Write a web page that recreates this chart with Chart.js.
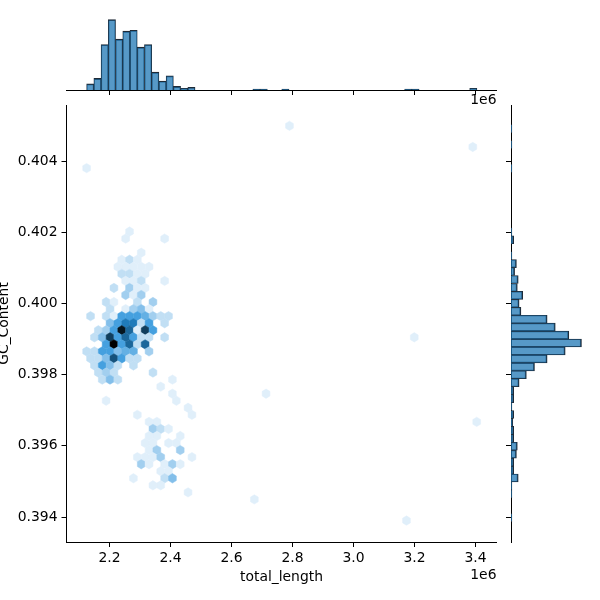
<!DOCTYPE html>
<html><head><meta charset="utf-8">
<script src="https://cdn.jsdelivr.net/npm/chart.js@4"></script>
<style>
html,body{margin:0;padding:0;background:#fff;}
#wrap{position:relative;width:600px;height:600px;background:#fff;}
#wrap canvas{position:absolute;left:0;top:0;}
</style></head><body>
<div id="wrap">
<canvas id="main" width="600" height="600"></canvas>
<canvas id="top" width="600" height="600"></canvas>
<canvas id="right" width="600" height="600"></canvas>
</div>
<script>
// ---- axis definitions ----
const xLabel = 'total_length';
const yLabel = 'GC_Content';
const xOffsetText = '1e6';
const xTicks = [2.2, 2.4, 2.6, 2.8, 3.0, 3.2, 3.4];          // x in units of 1e6
const yTicks = [0.394, 0.396, 0.398, 0.400, 0.402, 0.404];
const xLimits = [2.059, 3.469];
const yLimits = [0.393298, 0.405573];

// ---- hexbin grid (origin + half-steps of the hex lattice) ----
const hexX0 = 2.125, hexXStep = 0.01279;
const hexY0 = 0.3939, hexYStep = 0.000198;
// [row, [[col, count], ...]]
const hexRows = [
  [56, [[52,1]]],
  [53, [[99,1]]],
  [50, [[0,1]]],
  [41, [[11,1]]],
  [40, [[10,1],[20,1]]],
  [38, [[14,1]]],
  [37, [[9,1],[11,2],[13,1]]],
  [36, [[8,1],[10,1],[12,1],[14,1],[16,1]]],
  [35, [[9,2],[11,2],[13,1],[15,1]]],
  [34, [[10,1],[12,1],[14,2],[20,1]]],
  [33, [[7,2],[11,3],[13,1],[15,1]]],
  [32, [[10,3],[12,1],[14,3]]],
  [31, [[5,2],[7,1],[13,2],[17,3]]],
  [30, [[6,2],[10,1],[12,3],[14,4],[16,1]]],
  [29, [[1,2],[5,2],[7,1],[9,6],[11,6],[13,6],[15,5],[17,3],[19,2],[21,2]]],
  [28, [[6,4],[8,6],[10,8],[12,8],[14,2],[16,6],[20,2]]],
  [27, [[3,2],[5,3],[7,6],[9,13],[11,9],[13,1],[15,11],[17,6]]],
  [26, [[2,2],[4,4],[6,11],[8,6],[10,9],[12,6],[14,2],[16,2],[20,2],[84,1]]],
  [25, [[5,6],[7,14],[9,6],[11,9],[13,2],[15,9]]],
  [24, [[0,2],[2,2],[4,6],[6,6],[8,4],[10,5],[12,5],[16,3]]],
  [23, [[1,2],[3,2],[5,4],[7,10],[9,6],[11,2],[13,2]]],
  [22, [[2,2],[4,6],[6,4],[8,2],[12,2]]],
  [21, [[3,2],[5,3],[7,2],[17,2]]],
  [20, [[4,2],[6,4],[8,2],[22,1]]],
  [19, [[19,1]]],
  [18, [[22,1],[46,1]]],
  [17, [[5,1],[23,1]]],
  [16, [[26,1]]],
  [15, [[13,1],[27,1]]],
  [14, [[16,1],[18,1],[100,1]]],
  [13, [[17,3],[19,2],[21,1]]],
  [12, [[16,1],[18,1],[24,1]]],
  [11, [[15,1],[17,1],[21,1],[23,1]]],
  [10, [[16,1],[18,3],[24,3]]],
  [9,  [[13,1],[15,1],[17,1],[19,3],[27,1]]],
  [8,  [[14,3],[16,1],[20,1],[22,3],[24,1]]],
  [7,  [[19,1],[21,1]]],
  [6,  [[12,1],[20,2],[22,4]]],
  [5,  [[17,1],[19,1]]],
  [4,  [[26,1]]],
  [3,  [[43,1]]],
  [0,  [[82,1]]]
];

// ---- marginal histograms ----
const topBinStart = 2.125, topBinWidth = 0.0237;
const topCounts = [7,13,51,79,57,66,67,48,51,20,10,16,4,2,3,
  0,0,0,0,0,0,0,0,1,1,0,0,1,0,0,
  0,0,0,0,0,0,0,0,0,0,0,0,0,0,1,
  1,0,0,0,0,0,0,0,2];
const rightBinStart = 0.39387, rightBinWidth = 0.000223;
// from bottom bin upward
const rightCounts = [1,0,0,1,1,8,3,3,6,7,
  3,3,2,3,1,3,3,9,17,26,
  40,60,78,64,49,40,11,9,13,7,
  8,4,6,1,0,3,1,0,0,0,
  0,0,0,0,1,0,0,1,0,1];

// ---- styling ----
const FONT = {family: 'DejaVu Sans', size: 13.9};
const HIST_FILL = 'rgba(31,119,180,0.75)';
const HIST_EDGE = '#1f2a36';

const hexPoints = [];
hexRows.forEach(([m, cells]) => cells.forEach(([k, c]) => {
  hexPoints.push({x: hexX0 + k * hexXStep, y: hexY0 + m * hexYStep, c: c});
}));
const hexMax = Math.max(...hexPoints.map(p => p.c));

function hls2rgb(h, l, s) {
  function v(m1, m2, hue) {
    hue = ((hue % 1) + 1) % 1;
    if (hue < 1/6) return m1 + (m2 - m1) * hue * 6;
    if (hue < 0.5) return m2;
    if (hue < 2/3) return m1 + (m2 - m1) * (2/3 - hue) * 6;
    return m1;
  }
  const m2 = l <= 0.5 ? l * (1 + s) : l + s - l * s;
  const m1 = 2 * l - m2;
  return [v(m1, m2, h + 1/3), v(m1, m2, h), v(m1, m2, h - 1/3)];
}
function hexColor(c) {
  const t = Math.min(1, c / hexMax);
  const rgb = hls2rgb(0.5682, 1 - t, 0.7053).map(v => Math.round(Math.max(0, Math.min(1, v)) * 255));
  return 'rgb(' + rgb.join(',') + ')';
}

const gridOpts = {drawOnChartArea: false, drawTicks: true, tickLength: 5, tickColor: '#000', tickWidth: 1, color: '#000', offset: false};
const borderOpts = {display: true, color: '#000', width: 1};
const setXTicks = s => { s.ticks = xTicks.map(v => ({value: v})); };
const setYTicks = s => { s.ticks = yTicks.map(v => ({value: v})); };

const hexPlugin = {
  id: 'hexDraw',
  afterDatasetsDraw(chart) {
    const meta = chart.getDatasetMeta(0);
    const xs = chart.scales.x, ys = chart.scales.y;
    const hw = Math.abs(xs.getPixelForValue(hexX0 + hexXStep) - xs.getPixelForValue(hexX0));
    const vy = Math.abs(ys.getPixelForValue(hexY0 + hexYStep) - ys.getPixelForValue(hexY0));
    const ctx = chart.ctx;
    ctx.save();
    meta.data.forEach((el, i) => {
      const col = hexColor(hexPoints[i].c);
      const x = el.x, y = el.y;
      ctx.beginPath();
      ctx.moveTo(x + hw, y + vy / 3);
      ctx.lineTo(x + hw, y - vy / 3);
      ctx.lineTo(x, y - 2 * vy / 3);
      ctx.lineTo(x - hw, y - vy / 3);
      ctx.lineTo(x - hw, y + vy / 3);
      ctx.lineTo(x, y + 2 * vy / 3);
      ctx.closePath();
      ctx.fillStyle = col;
      ctx.fill();
      ctx.strokeStyle = col;
      ctx.lineWidth = 0.5;
      ctx.stroke();
    });
    ctx.restore();
  }
};

const offsetTextPlugin = {
  id: 'offsetText',
  afterDraw(chart) {
    const ctx = chart.ctx;
    ctx.save();
    ctx.font = FONT.size + 'px "' + FONT.family + '"';
    ctx.fillStyle = '#000';
    ctx.textAlign = 'right';
    ctx.textBaseline = 'middle';
    ctx.fillText(xOffsetText, chart.chartArea.right, 575);
    ctx.fillText(xOffsetText, chart.chartArea.right, 100);
    ctx.restore();
  }
};

new Chart(document.getElementById('main'), {
  type: 'scatter',
  data: {datasets: [{data: hexPoints.map(p => ({x: p.x, y: p.y})), pointRadius: 0, pointHoverRadius: 0}]},
  options: {
    responsive: false, animation: false, events: [],
    plugins: {legend: {display: false}, tooltip: {enabled: false}},
    layout: {padding: {left: 0, right: 103.5, top: 105, bottom: 0}},
    scales: {
      x: {type: 'linear', position: 'bottom', min: xLimits[0], max: xLimits[1], offset: false,
        afterBuildTicks: setXTicks, afterFit: s => { s.height = 58; },
        grid: gridOpts, border: borderOpts,
        ticks: {color: '#000', font: FONT, padding: 3, maxRotation: 0, autoSkip: false, callback: v => Number(v).toFixed(1)},
        title: {display: true, text: xLabel, color: '#000', font: FONT, padding: {top: 0, bottom: 14.5}}},
      y: {type: 'linear', position: 'left', min: yLimits[0], max: yLimits[1], offset: false,
        afterBuildTicks: setYTicks, afterFit: s => { s.width = 66.5; },
        grid: gridOpts, border: borderOpts,
        ticks: {color: '#000', font: FONT, padding: 4, autoSkip: false, callback: v => Number(v).toFixed(3)},
        title: {display: true, text: yLabel, color: '#000', font: FONT, padding: {top: -3.5, bottom: 0}}}
    }
  },
  plugins: [hexPlugin, offsetTextPlugin]
});

new Chart(document.getElementById('top'), {
  type: 'bar',
  data: {datasets: [{
    data: topCounts.map((c, i) => ({x: topBinStart + (i + 0.5) * topBinWidth, y: c})),
    backgroundColor: HIST_FILL, borderColor: HIST_EDGE,
    borderWidth: {top: 1.2, left: 0.7, right: 0.7, bottom: 0},
    barPercentage: 1, categoryPercentage: 1
  }]},
  options: {
    responsive: false, animation: false, events: [],
    plugins: {legend: {display: false}, tooltip: {enabled: false}},
    layout: {padding: {left: 66.5, right: 103.5, top: 16, bottom: 0}},
    scales: {
      x: {type: 'linear', position: 'bottom', min: xLimits[0], max: xLimits[1], offset: false,
        afterBuildTicks: setXTicks, afterFit: s => { s.height = 510; },
        grid: gridOpts, border: borderOpts, ticks: {display: false}},
      y: {display: false, min: 0, max: Math.max(...topCounts) * 1.05}
    }
  }
});

new Chart(document.getElementById('right'), {
  type: 'bar',
  data: {datasets: [{
    data: rightCounts.map((c, i) => ({y: rightBinStart + (i + 0.5) * rightBinWidth, x: c})),
    backgroundColor: HIST_FILL, borderColor: HIST_EDGE,
    borderWidth: {right: 1.2, top: 0.7, bottom: 0.7, left: 0},
    barPercentage: 1, categoryPercentage: 1
  }]},
  options: {
    indexAxis: 'y',
    responsive: false, animation: false, events: [],
    plugins: {legend: {display: false}, tooltip: {enabled: false}},
    layout: {padding: {left: 500, right: 15, top: 105, bottom: 58}},
    scales: {
      y: {type: 'linear', position: 'left', min: yLimits[0], max: yLimits[1], offset: false,
        afterBuildTicks: setYTicks, afterFit: s => { s.width = 11; },
        grid: gridOpts, border: borderOpts, ticks: {display: false}},
      x: {display: false, min: 0, max: Math.max(...rightCounts) * 1.05}
    }
  }
});
</script>
</body></html>
